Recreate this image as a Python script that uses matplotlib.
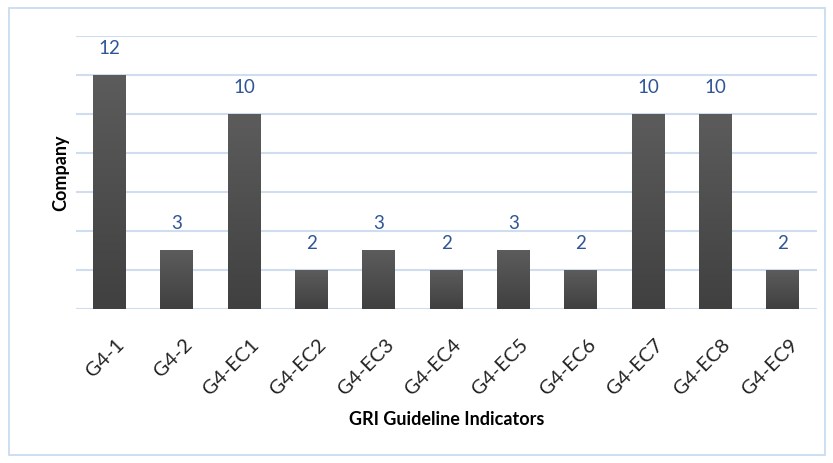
import numpy as np
import matplotlib
matplotlib.use('Agg')
import matplotlib.pyplot as plt
from matplotlib.patches import Rectangle
from matplotlib.transforms import ScaledTranslation

plt.rcParams['font.family'] = ['Lato', 'DejaVu Sans']

# data
indicators = ['G4-1', 'G4-2', 'G4-EC1', 'G4-EC2', 'G4-EC3', 'G4-EC4',
              'G4-EC5', 'G4-EC6', 'G4-EC7', 'G4-EC8', 'G4-EC9']
companies = [12, 3, 10, 2, 3, 2, 3, 2, 10, 10, 2]
y_ticks = [0, 2, 4, 6, 8, 10, 12, 14]

fig = plt.figure(figsize=(8.33, 4.63), dpi=100)
fig.patches.append(Rectangle((0.011, 0.017), 0.979, 0.966, transform=fig.transFigure,
                             fill=False, edgecolor='#C5D9F0', linewidth=1.2))
ax = fig.add_axes([0.0912, 0.333, 0.889, 0.589])

x = np.arange(len(indicators))
bars = ax.bar(x, companies, width=0.49, color='#4f4f4f', zorder=2)

# vertical gradient on each bar, lighter at the top
grad = np.linspace(0, 1, 256).reshape(-1, 1)
cmap = matplotlib.colors.LinearSegmentedColormap.from_list('g', ['#5c5c5c', '#404040'])
for b in bars:
    im = ax.imshow(grad, cmap=cmap, aspect='auto', zorder=3,
                   extent=[b.get_x(), b.get_x() + b.get_width(), 0, b.get_height()])
    im.set_clip_path(b)

for xi, v in zip(x, companies):
    ax.annotate(str(v), (xi, v), xytext=(0, 13), textcoords='offset points',
                ha='center', va='bottom', fontsize=13.5, color='#2F5597')

ax.set_xlim(-0.5, len(indicators) - 0.5)
ax.set_ylim(0, 14)
ax.set_yticks(y_ticks)
ax.yaxis.grid(True, color='#D0DDEF', linewidth=1.5, zorder=0)
ax.set_axisbelow(True)
ax.tick_params(axis='y', left=False, labelleft=False)
ax.tick_params(axis='x', bottom=False, pad=16)
for s in ax.spines.values():
    s.set_visible(False)

ax.set_xticks(x)
ax.set_xticklabels(indicators, rotation=45, ha='right', rotation_mode='anchor',
                   fontsize=14.5, color='#222222')
shift = ScaledTranslation(6 / 100, 0, fig.dpi_scale_trans)
for lbl in ax.get_xticklabels():
    lbl.set_transform(lbl.get_transform() + shift)
ax.set_ylabel('Company', fontsize=13, fontweight='bold', labelpad=5)
ax.set_xlabel('GRI Guideline Indicators', fontsize=13, fontweight='bold', labelpad=9)

fig.savefig('out.png', dpi=100)
